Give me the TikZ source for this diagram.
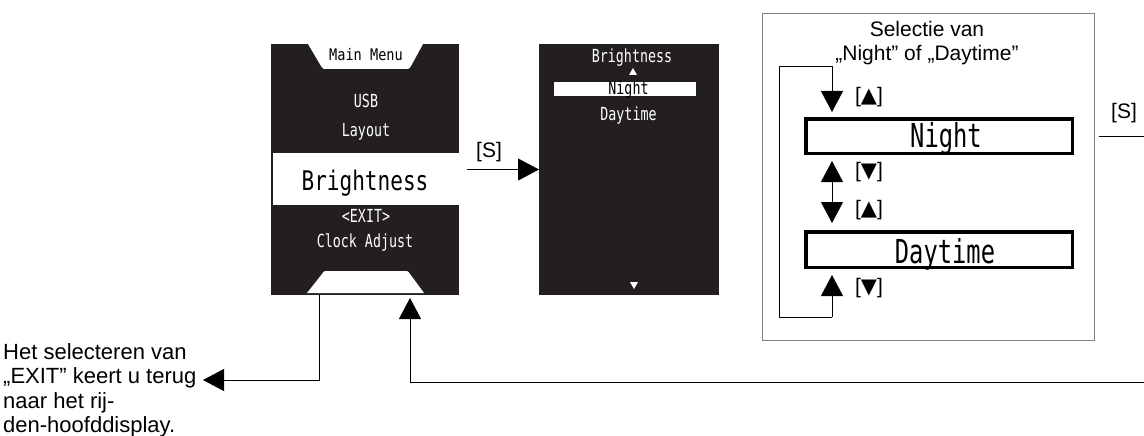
\documentclass[tikz,border=0pt]{standalone}
\usepackage{fontspec}
\setmainfont{Liberation Sans}
\newfontfamily\lcd[FakeStretch=0.74]{DejaVu Sans Mono}
\newfontfamily\lcdM[FakeStretch=0.78]{DejaVu Sans Mono}
\newfontfamily\lcdB[FakeStretch=0.72]{DejaVu Sans Mono}
\newfontfamily\lcdW[FakeStretch=0.85]{DejaVu Sans Mono}
\newfontfamily\sym{DejaVu Sans}
\usetikzlibrary{arrows.meta}
\definecolor{lcdbg}{HTML}{231F20}
\definecolor{boxgray}{HTML}{808080}
\begin{document}
\begin{tikzpicture}[x=1pt,y=-1pt,
  ln/.style={line width=1pt,draw=black},
  arr/.style={ln,-{Triangle[length=21pt,width=22pt]}},
  darr/.style={ln,{Triangle[length=21pt,width=22pt]}-{Triangle[length=21pt,width=22pt]}},
  screen/.style={fill=lcdbg,draw=none,inner sep=0pt,outer sep=0pt,minimum height=251pt},
  lcdtxt/.style={text=white,inner sep=0pt,anchor=base,font=\lcd\fontsize{18}{21}\selectfont},
  optbox/.style={draw=black,line width=3.5pt,fill=white,inner sep=0pt,minimum width=266.5pt},
  opttxt/.style={inner sep=0pt,anchor=base,font=\lcdB\fontsize{33}{36}\selectfont},
  lbl/.style={font=\fontsize{21}{24}\selectfont,inner sep=0pt},
]
\useasboundingbox (0,0) rectangle (1144,436);

% ---------- main menu screen
\node[screen,minimum width=188pt] (main) at (365,169.5) {};
\fill[white] (308,44) -- (321,66) .. controls (323,69) .. (327,69) -- (405,69)
  .. controls (409,69) .. (411,66) -- (423,44) -- cycle;
\fill[white] (307,293) -- (322,274) .. controls (324,271) .. (328,271) -- (404,271)
  .. controls (408,271) .. (410,274) -- (424,293) -- cycle;
\node[lcdtxt,text=black,font=\lcdW\fontsize{16}{18}\selectfont] (mm) at (366,61) {Main Menu};
\node[lcdtxt] (usb) at (366,107) {USB};
\node[lcdtxt] (layout) at (366,136) {Layout};
\fill[white] (273,153) rectangle (459,205);
\node[lcdtxt,text=black,font=\lcdM\fontsize{27}{30}\selectfont] (bright) at (365,190) {Brightness};
\node[lcdtxt] (exit) at (366,222) {<EXIT>};
\node[lcdtxt] (clock) at (365,247) {Clock Adjust};

% ---------- brightness screen
\node[screen,minimum width=180pt] (sub) at (629,169.5) {};
\node[lcdtxt] (subtitle) at (632,63) {Brightness};
\fill[white] (629,75) -- (637,75) -- (633,68) -- cycle;
\fill[white] (554,82) rectangle (696,96);
\node[lcdtxt,text=black] (subnight) at (628.5,94.5) {Night};
\node[lcdtxt] (subday) at (628.5,120.5) {Daytime};
\fill[white] (630,282) -- (638,282) -- (634,289) -- cycle;

% [S] arrow
\draw[arr,shorten <=8pt] (main.east |- sub.west) -- (sub.west);
\node[lbl] (s1) at (489,152) {[S]};

% ---------- selection box
\node[draw=boxgray,line width=1pt,minimum width=332pt,minimum height=326pt,inner sep=0pt] (sel) at (928,177) {};
\node[lbl,align=center,anchor=north] (title) at (927,21.5) {Selectie van\\„Night” of „Daytime”};
\node[optbox,minimum height=34.5pt] (night) at (939,136) {};
\node[opttxt] (nighttxt) at (946,147) {Night};
\node[optbox,minimum height=35.5pt] (day) at (939,249.5) {};
\node[opttxt] (daytxt) at (945,263) {Daytime};

\coordinate (lx) at (832,0);
\coordinate (lb) at (832,317);
\coordinate (lt) at (779,67);
\draw[arr,shorten >=5pt] (lb) -| (lt) -| (night.north -| lx);
\draw[arr,shorten >=6pt] (lb) -- (day.south -| lx);
\draw[darr,shorten <=6pt,shorten >=7pt] (night.south -| lx) -- (day.north -| lx);

\node[lbl] (k1) at (869,97) {[{\sym ▲}]};
\node[lbl] (k2) at (869,172) {[{\sym ▼}]};
\node[lbl] (k3) at (869,210) {[{\sym ▲}]};
\node[lbl] (k4) at (869,288) {[{\sym ▼}]};

% right exit
\coordinate (outR) at (1144,136);
\draw[ln,shorten <=4pt] (sel.east |- outR) -- (outR);
\node[lbl] (s2) at (1124,113) {[S]};

% return line
\coordinate (retR) at (1144,382);
\coordinate (retx) at (410,0);
\draw[arr,shorten >=3pt] (retR) -| (main.south -| retx);

% exit to main display
\node[lbl,font=\fontsize{22}{24.5}\selectfont,align=left,anchor=north west] (exittxt) at (3,343)
  {Het selecteren van\\„EXIT” keert u terug\\naar het rij-\\den-hoofddisplay.};
\coordinate (exitx) at (319,0);
\coordinate (exitend) at (203,380);
\draw[arr] (main.south -| exitx) |- (exitend);
\end{tikzpicture}
\end{document}
